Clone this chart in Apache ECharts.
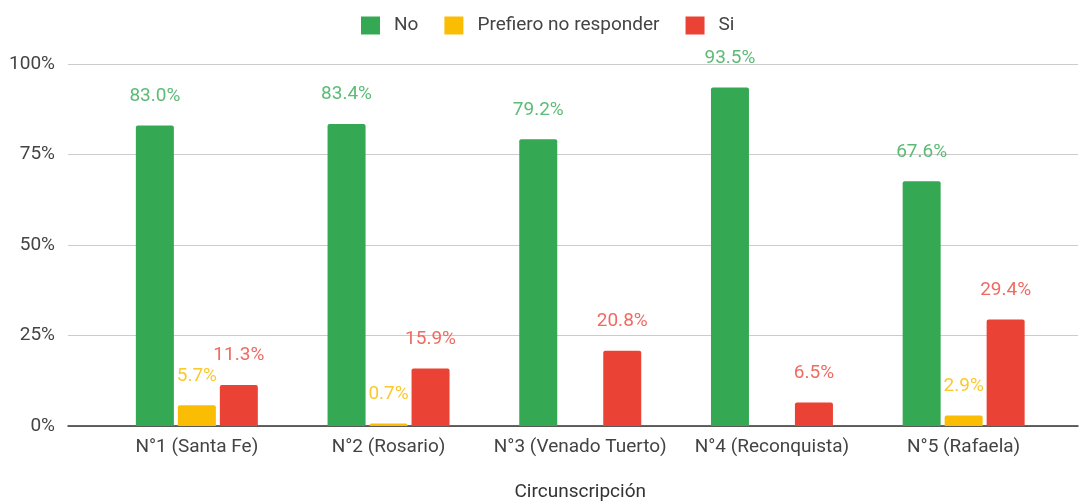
<!DOCTYPE html>
<html>
<head>
<meta charset="utf-8">
<script src="https://cdn.jsdelivr.net/npm/echarts@6/dist/echarts.min.js"></script>
<style>
  html, body { margin: 0; padding: 0; background: #fff; }
  #chart { width: 1079px; height: 503px; }
</style>
</head>
<body>
<div id="chart"></div>
<script>
// Circumscriptions along the x axis
const categories = ['N°1 (Santa Fe)', 'N°2 (Rosario)', 'N°3 (Venado Tuerto)', 'N°4 (Reconquista)', 'N°5 (Rafaela)'];
// Share of answers per circumscription (%)
const noValues = [83.0, 83.4, 79.2, 93.5, 67.6];
const preferNotValues = [5.7, 0.7, null, null, 2.9];
const siValues = [11.3, 15.9, 20.8, 6.5, 29.4];
// Value axis ticks
const yTicks = [0, 25, 50, 75, 100];

const FONT = 'Roboto';
const FS = 19;
const TOP = 64, BOTTOM = 77;

function barSeries(name, data, color, labelColor) {
  return {
    name: name,
    type: 'bar',
    xAxisIndex: 0,
    yAxisIndex: 0,
    data: data,
    barWidth: 38,
    barGap: '10.5%',
    itemStyle: { color: color, borderRadius: [2, 2, 0, 0] },
    label: {
      show: true,
      position: 'top',
      distance: 20,
      color: labelColor,
      fontFamily: FONT,
      fontSize: FS,
      formatter: p => (p.value == null ? '' : p.value.toFixed(1) + '%')
    }
  };
}

const chart = echarts.init(document.getElementById('chart'), null, { renderer: 'canvas' });
chart.setOption({
  animation: false,
  backgroundColor: '#ffffff',
  textStyle: { fontFamily: FONT },
  legend: {
    left: 361,
    top: 16,
    padding: 0,
    itemWidth: 19,
    itemHeight: 18,
    itemGap: 26,
    icon: 'rect',
    textStyle: { color: '#444', fontSize: FS, fontFamily: FONT, padding: [0, 0, 0, 9] },
    data: ['No', 'Prefiero no responder', 'Si']
  },
  grid: [
    // bars
    { left: 101, right: 19.5, top: TOP, bottom: BOTTOM, outerBoundsMode: 'none', containLabel: false },
    // full-width gridlines and tick labels
    { left: 68, right: 1, top: TOP, bottom: BOTTOM, outerBoundsMode: 'none', containLabel: false }
  ],
  xAxis: [
    {
      type: 'category',
      gridIndex: 0,
      data: categories,
      axisLine: { show: false },
      axisTick: { show: false },
      axisLabel: { color: '#444', fontSize: FS, fontFamily: FONT, margin: 12, interval: 0 },
      name: 'Circunscripción',
      nameLocation: 'middle',
      nameGap: 57,
      nameTextStyle: { color: '#333', fontSize: FS, fontFamily: FONT }
    },
    {
      type: 'value',
      gridIndex: 1,
      min: 0,
      max: 1,
      axisLine: { show: true, lineStyle: { color: '#333', width: 1.5 } },
      axisTick: { show: false },
      axisLabel: { show: false },
      splitLine: { show: false }
    }
  ],
  yAxis: [
    {
      type: 'value',
      gridIndex: 0,
      min: 0,
      max: 100,
      interval: 25,
      axisLine: { show: false },
      axisTick: { show: false },
      axisLabel: { show: false },
      splitLine: { show: false }
    },
    {
      type: 'value',
      gridIndex: 1,
      min: yTicks[0],
      max: yTicks[yTicks.length - 1],
      interval: 25,
      axisLine: { show: false },
      axisTick: { show: false },
      axisLabel: { color: '#444', fontSize: FS, fontFamily: FONT, margin: 13, formatter: v => v + '%' },
      splitLine: { show: true, lineStyle: { color: '#cccccc', width: 1 } }
    }
  ],
  series: [
    barSeries('No', noValues, '#34a853', '#5cbb75'),
    barSeries('Prefiero no responder', preferNotValues, '#fbbc04', '#fbc82e'),
    barSeries('Si', siValues, '#ea4335', '#ef6b62')
  ]
});
</script>
</body>
</html>
